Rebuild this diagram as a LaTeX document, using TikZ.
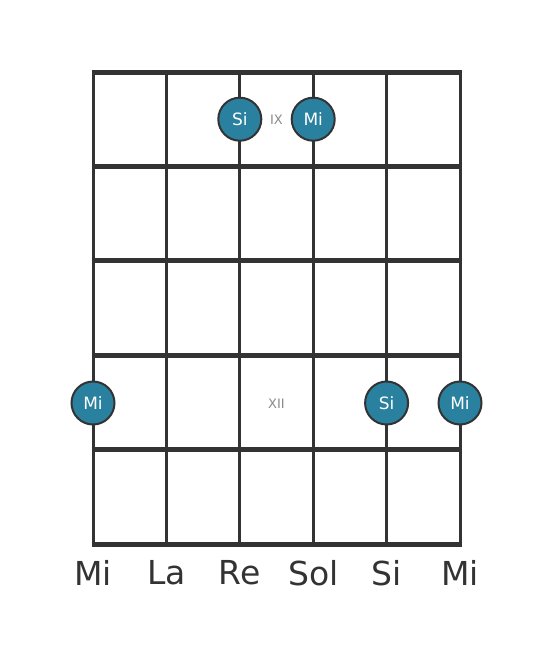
\documentclass[tikz,border=0pt]{standalone}
\usepackage{fontspec}
\setmainfont{DejaVu Sans}
\definecolor{ink}{HTML}{333333}
\definecolor{dotfill}{HTML}{2A809F}
\definecolor{lbl}{HTML}{8A8A8A}
\tikzset{
  fret/.style={draw=ink, line width=5pt},
  strg/.style={draw=ink, line width=3pt},
  notedot/.style={circle, fill=dotfill, draw=ink, line width=2pt, minimum size=43pt, inner sep=0pt, text=white, font=\fontsize{17}{17}\selectfont},
  fretlbl/.style={text=lbl, font=\fontsize{13}{13}\selectfont},
  strlbl/.style={text=ink, font=\fontsize{33}{33}\selectfont},
}
\begin{document}
\begin{tikzpicture}[x=1pt,y=-1pt]
\useasboundingbox (0,0) rectangle (553,656);
% string coordinates
\foreach \i/\x in {1/93,2/166.4,3/239.8,4/313.2,5/386.6,6/460}{
  \coordinate (st\i) at (\x,72);
  \coordinate (sb\i) at (\x,544);
}
\foreach \j/\y in {0/72,1/166.4,2/260.8,3/355.2,4/449.6,5/544}{
  \coordinate (fl\j) at (93,\y);
  \coordinate (fr\j) at (460,\y);
}
\foreach \i in {1,...,6}{ \draw[strg] (st\i) -- (sb\i); }
\foreach \j in {0,...,5}{ \draw[fret] ([xshift=-1.5pt]fl\j) -- ([xshift=1.5pt]fr\j); }
% fret labels
\node[fretlbl] (ix) at (276.5,120) {IX};
\node[fretlbl] (xii) at (276.5,403.5) {XII};
% notes
\node[notedot] (n1) at (239.8,119.2) {Si};
\node[notedot] (n2) at (313.2,119.2) {Mi};
\node[notedot] (n3) at (93,403) {Mi};
\node[notedot] (n4) at (386.6,403) {Si};
\node[notedot] (n5) at (460,403) {Mi};
% string names
\node[strlbl] (l1) at (93,573) {Mi};
\node[strlbl] (l2) at (166.4,573) {La};
\node[strlbl] (l3) at (239.8,573) {Re};
\node[strlbl] (l4) at (313.2,573) {Sol};
\node[strlbl] (l5) at (386.6,573) {Si};
\node[strlbl] (l6) at (460,573) {Mi};
\end{tikzpicture}
\end{document}
